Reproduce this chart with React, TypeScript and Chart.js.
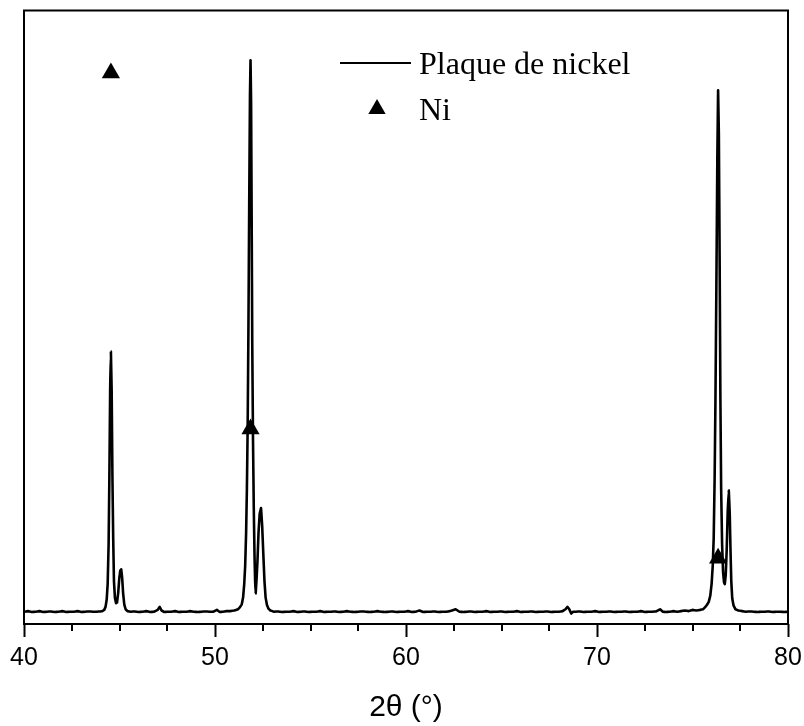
import React, { useEffect, useRef } from "react";
import { Chart, registerables } from "chart.js";

Chart.register(...registerables);

// 2θ (°) positions of the measured pattern
const twoTheta = [
  40.0, 40.2, 40.4, 40.6, 40.8, 41.0, 41.2, 41.4, 41.6, 41.8, 42.0, 42.2, 42.4, 42.6, 42.8, 43.0, 43.2, 43.4, 43.6, 43.8, 44.0, 44.1, 44.2,
  44.27, 44.33, 44.38, 44.43, 44.47, 44.51, 44.55, 44.59, 44.63, 44.67, 44.71, 44.76, 44.82, 44.87, 44.93, 44.99, 45.04, 45.09, 45.14,
  45.19, 45.25, 45.32, 45.42,
  45.6, 45.8, 46.0, 46.2, 46.4, 46.6, 46.8, 47.0, 47.1, 47.2, 47.35, 47.5, 47.7, 47.9, 48.1, 48.3, 48.5, 48.7, 48.9, 49.1, 49.3, 49.5,
  49.7, 49.9, 50.1, 50.25, 50.4, 50.6, 50.8, 51.0, 51.2, 51.3, 51.4, 51.47, 51.53, 51.58, 51.63, 51.67, 51.71, 51.75, 51.79, 51.83, 51.86,
  51.89, 51.92, 51.95, 51.99, 52.03, 52.07, 52.1, 52.13, 52.17, 52.22, 52.28, 52.34, 52.41, 52.47, 52.53, 52.59, 52.65, 52.72, 52.8, 52.9, 53.0,
  53.1, 53.3, 53.5, 53.7, 53.9, 54.1, 54.3, 54.5, 54.7, 54.9, 55.1, 55.3, 55.5, 55.7, 55.9, 56.1, 56.3, 56.5, 56.7, 56.9, 57.1, 57.3, 57.5,
  57.7, 57.9, 58.1, 58.3, 58.5, 58.7, 58.9, 59.1, 59.3, 59.5, 59.7, 59.9, 60.1, 60.3, 60.5, 60.7, 60.9, 61.1, 61.3, 61.5, 61.7, 61.9, 62.1,
  62.3, 62.6, 62.8, 63.0, 63.2, 63.4, 63.6, 63.8, 64.0, 64.2, 64.4, 64.6, 64.8, 65.0, 65.2, 65.4, 65.6, 65.8, 66.0, 66.2, 66.4, 66.6, 66.8,
  67.0, 67.2, 67.4, 67.6, 67.8, 68.0, 68.2, 68.35, 68.45, 68.55, 68.65, 68.75, 68.9, 69.1, 69.3, 69.5, 69.7, 69.9, 70.1, 70.3, 70.5, 70.7,
  70.9, 71.1, 71.3, 71.5, 71.7, 71.9, 72.1, 72.3, 72.5, 72.7, 72.9, 73.1, 73.3, 73.45, 73.6, 73.8, 74.0, 74.2, 74.4, 74.6, 74.8, 75.0,
  75.2, 75.4, 75.55, 75.65, 75.75, 75.85, 75.93, 76.0, 76.06, 76.11, 76.16, 76.2, 76.25, 76.3, 76.34, 76.38, 76.42, 76.46, 76.5, 76.55,
  76.6, 76.65, 76.69, 76.74, 76.79, 76.84, 76.9, 76.95, 76.99, 77.03, 77.08, 77.15, 77.25, 77.4, 77.6, 77.8, 78.0, 78.2, 78.4, 78.6,
  78.8, 79.0, 79.2, 79.4, 79.6, 79.8, 80.0,
];

// Intensity (arbitrary units, 0–100)
const intensity = [
  2.0, 2.1, 1.95, 2.0, 2.1, 1.95, 2.0, 2.05, 1.95, 2.0, 2.1, 1.95, 2.0, 2.0, 2.1, 1.95, 2.0, 2.05, 2.0, 2.0, 2.05, 2.1, 2.3,
  2.8, 4.0, 6.5, 13, 24, 38, 44.4, 38, 24, 14, 7, 4.3, 3.4, 3.5, 5.0, 7.5, 8.7, 8.9, 7.5,
  5.0, 3.2, 2.4, 2.1,
  2.0, 2.05, 1.95, 2.0, 2.1, 1.95, 2.0, 2.3, 2.8, 2.2, 1.95, 2.0, 2.0, 2.1, 1.95, 2.0, 2.0, 2.1, 2.0, 1.95, 2.0, 2.05,
  2.0, 2.0, 2.3, 1.95, 2.0, 2.1, 2.1, 2.2, 2.4, 2.7, 3.2, 4.3, 6.5, 9.5, 15, 22, 32, 48, 68, 86, 91.9,
  85, 66, 46, 30, 19, 11, 7.0, 5.0, 7.0, 10, 15, 18, 18.9, 16, 11.4, 7.0, 4.3, 3.1, 2.5, 2.2, 2.1,
  2.0, 2.05, 1.95, 2.0, 2.0, 2.1, 1.95, 2.0, 2.05, 1.95, 2.0, 2.0, 2.1, 1.95, 2.0, 2.0, 2.05, 1.95, 2.0, 2.1, 2.0, 1.95, 2.0,
  2.05, 2.0, 1.95, 2.0, 2.1, 2.0, 1.95, 2.0, 2.05, 1.95, 2.0, 2.0, 2.1, 1.95, 2.0, 2.2, 1.95, 2.0, 2.0, 2.05, 1.95, 2.0, 2.0,
  2.1, 2.4, 2.0, 1.95, 2.0, 2.05, 1.95, 2.0, 2.0, 2.1, 1.95, 2.0, 2.0, 2.05, 1.95, 2.0, 2.0, 2.1, 1.95, 2.0, 2.0, 2.05, 1.95,
  2.0, 2.0, 2.05, 1.95, 2.0, 2.0, 2.1, 2.4, 2.8, 2.4, 1.7, 2.0, 2.0, 2.05, 1.95, 2.0, 2.0, 2.1, 1.95, 2.0, 2.0, 2.05,
  1.95, 2.0, 2.0, 2.05, 1.95, 2.0, 2.0, 2.1, 1.95, 2.0, 2.0, 2.05, 2.4, 2.0, 1.95, 2.0, 2.1, 2.0, 2.1, 2.2, 2.1, 2.3,
  2.2, 2.3, 2.4, 2.7, 3.1, 3.6, 4.6, 6.5, 9.5, 14, 24, 36, 55, 76, 87, 80, 60, 37, 22, 13,
  8.5, 6.8, 6.5, 8.0, 12, 18, 21.8, 18, 12, 7.0, 4.2, 3.0, 2.4, 2.2, 2.1, 2.0, 2.05, 2.0, 1.95, 2.0,
  2.0, 2.05, 1.95, 2.0, 2.0, 1.95, 2.0,
];

// Ni reference markers (▲)
const niTheta = [44.55, 51.86, 76.34];
const niMarker = [89.8, 31.8, 10.7];

const xMajorTicks = [40, 50, 60, 70, 80];
const xMinorTicks = [42.5, 45, 47.5, 52.5, 55, 57.5, 62.5, 65, 67.5, 72.5, 75, 77.5];

const seriesLabel = "Plaque de nickel";
const markerLabel = "Ni";
const xTitle = "2θ (°)";

const framePlugin = {
  id: "frameAndLegend",
  afterDraw(chart: any) {
    const { ctx, chartArea } = chart;
    const xs = chart.scales.x;
    ctx.save();
    ctx.strokeStyle = "#000";
    ctx.lineWidth = 2;
    ctx.strokeRect(chartArea.left, chartArea.top, chartArea.right - chartArea.left, chartArea.bottom - chartArea.top);
    // minor ticks
    ctx.beginPath();
    for (const v of xMinorTicks) {
      const px = Math.round(xs.getPixelForValue(v));
      ctx.moveTo(px, chartArea.bottom);
      ctx.lineTo(px, chartArea.bottom + 7);
    }
    ctx.stroke();
    // legend
    ctx.beginPath();
    ctx.moveTo(340, 63);
    ctx.lineTo(411, 63);
    ctx.stroke();
    ctx.fillStyle = "#000";
    const r = 10;
    const cx = 377;
    const cy = 109;
    ctx.beginPath();
    ctx.moveTo(cx, cy - r);
    ctx.lineTo(cx + r * Math.sin(Math.PI / 3), cy + r / 2);
    ctx.lineTo(cx - r * Math.sin(Math.PI / 3), cy + r / 2);
    ctx.closePath();
    ctx.fill();
    ctx.font = "32px 'Liberation Serif', 'Times New Roman', serif";
    ctx.textBaseline = "alphabetic";
    ctx.textAlign = "left";
    ctx.fillText(seriesLabel, 419, 74);
    ctx.fillText(markerLabel, 419, 120);
    ctx.restore();
  },
};

export default function App() {
  const ref = useRef<HTMLCanvasElement | null>(null);
  useEffect(() => {
    document.body.style.margin = "0";
    const canvas = ref.current;
    if (!canvas) return;
    const chart = new Chart(canvas, {
      type: "line",
      data: {
        datasets: [
          {
            label: markerLabel,
            data: niTheta.map((x, i) => ({ x, y: niMarker[i] })),
            showLine: false,
            pointStyle: "triangle",
            pointRadius: 10.5,
            pointBackgroundColor: "#000",
            pointBorderWidth: 0,
            borderColor: "#000",
          },
          {
            label: seriesLabel,
            data: twoTheta.map((x, i) => ({ x, y: intensity[i] })),
            borderColor: "#000",
            borderWidth: 2.6,
            borderJoinStyle: "round",
            borderCapStyle: "round",
            pointRadius: 0,
            // a near-zero tension keeps straight segments but avoids the per-pixel fast path
            tension: 0.001,
            fill: false,
          },
        ],
      },
      options: {
        responsive: false,
        animation: false,
        layout: { padding: { left: 24, right: 16, top: 8, bottom: 0 } },
        plugins: { legend: { display: false }, tooltip: { enabled: false } },
        scales: {
          x: {
            type: "linear",
            min: 40,
            max: 80,
            afterBuildTicks: (scale: any) => {
              scale.ticks = xMajorTicks.map((v) => ({ value: v }));
            },
            afterFit: (scale: any) => {
              scale.paddingLeft = 0;
              scale.paddingRight = 0;
            },
            ticks: {
              color: "#000",
              font: { family: "'Liberation Sans', Arial, sans-serif", size: 25 },
              padding: 6,
              maxRotation: 0,
              autoSkip: false,
            },
            grid: {
              display: true,
              drawOnChartArea: false,
              drawTicks: true,
              tickLength: 13,
              tickWidth: 2,
              tickColor: "#000",
            },
            border: { display: false },
            title: {
              display: true,
              text: xTitle,
              color: "#000",
              font: { family: "'Liberation Sans', Arial, sans-serif", size: 30 },
              padding: { top: 11, bottom: 0 },
            },
          },
          y: {
            display: false,
            min: 0,
            max: 100,
          },
        },
      },
      plugins: [framePlugin],
    });
    return () => chart.destroy();
  }, []);
  return (
    <div style={{ width: 804, height: 726 }}>
      <canvas ref={ref} width={804} height={726} />
    </div>
  );
}
